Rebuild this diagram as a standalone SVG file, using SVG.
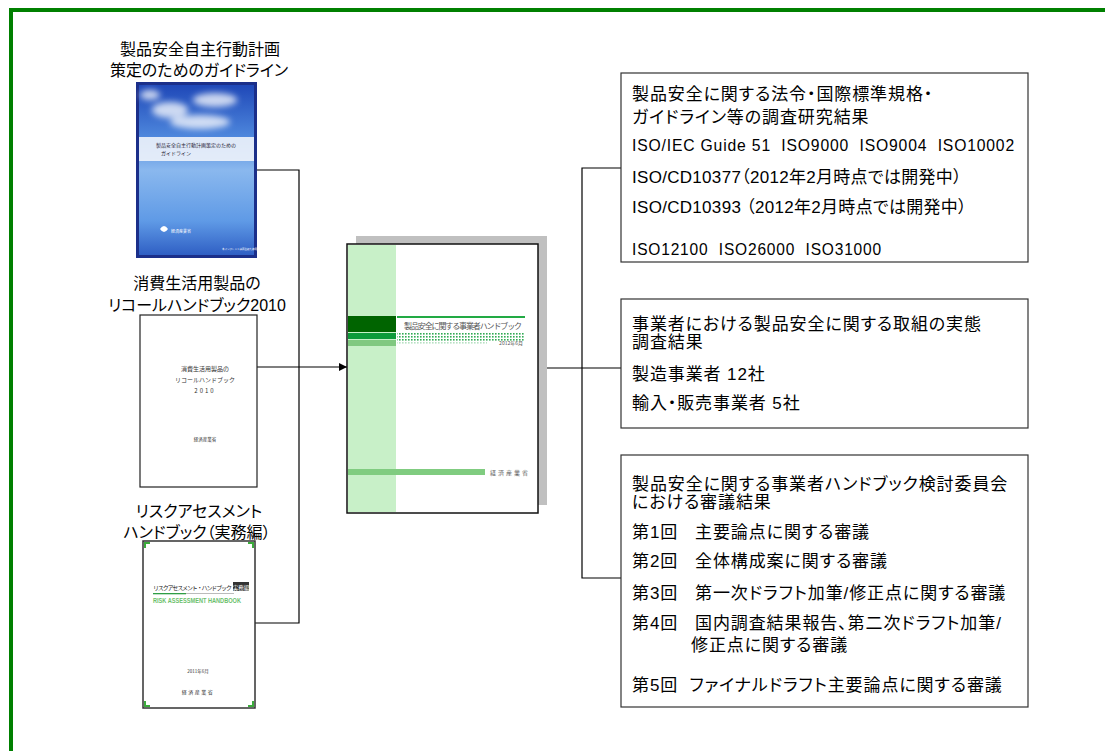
<svg xmlns="http://www.w3.org/2000/svg" width="1105" height="751" viewBox="0 0 1105 751">
  <style>
    .jp { font-family: "Liberation Sans", "Noto Sans CJK JP", sans-serif; fill: #000; font-feature-settings: "palt"; }
    .title { font-size: 16px; text-anchor: middle; }
    .box-text { font-size: 17px; letter-spacing: 0.9px; }
    .latin { letter-spacing: 0.3px; }
    .box { fill: #fff; stroke: #333; stroke-width: 1.2; }
    .wire { fill: none; stroke: #000; stroke-width: 1.2; }
    .tiny { font-family: "Noto Sans CJK JP", sans-serif; }
  </style>
  <defs>
    <marker id="arrow" viewBox="0 0 10 10" refX="10" refY="5" markerWidth="8" markerHeight="8" markerUnits="userSpaceOnUse" orient="auto">
      <path d="M0,0 L10,5 L0,10 z" fill="#000"/>
    </marker>
    <linearGradient id="skyGrad" x1="0" y1="0" x2="0" y2="1">
      <stop offset="0" stop-color="#1f48b8"/>
      <stop offset="0.3" stop-color="#4d86dc"/>
      <stop offset="0.5" stop-color="#8ab8ee"/>
      <stop offset="0.8" stop-color="#5f9ae6"/>
      <stop offset="1" stop-color="#2f5fc4"/>
    </linearGradient>
    <filter id="soft" x="-20%" y="-20%" width="140%" height="140%">
      <feGaussianBlur stdDeviation="3"/>
    </filter>
    <pattern id="dots" width="3" height="3" patternUnits="userSpaceOnUse">
      <rect width="1.6" height="1.6" fill="#33aa55"/>
    </pattern>
  </defs>

  <!-- page frame -->
  <rect x="9" y="8" width="1096" height="4" fill="#008000"/>
  <rect x="9" y="8" width="4" height="743" fill="#008000"/>

  <!-- connectors -->
  <g id="connectors">
    <polyline class="wire" points="257,170 299,170 299,623 255,623"/>
    <line class="wire" x1="257" y1="367" x2="347" y2="367" marker-end="url(#arrow)"/>
    <polyline class="wire" points="621,168 582,168 582,578 621,578"/>
    <line class="wire" x1="621" y1="368" x2="538" y2="368" marker-end="url(#arrow)"/>
  </g>

  <!-- guideline booklet -->
  <g id="book-guideline">
    <text class="jp title" x="200" y="55">製品安全自主行動計画</text>
    <text class="jp title" x="199" y="76">策定のためのガイドライン</text>
    <rect x="136" y="82" width="121" height="176" fill="#1b2f8a"/>
    <rect x="139" y="85" width="115" height="170" fill="url(#skyGrad)"/>
    <g filter="url(#soft)" fill="#fff" opacity="0.75">
      <ellipse cx="170" cy="110" rx="18" ry="8"/>
      <ellipse cx="215" cy="100" rx="22" ry="7"/>
      <ellipse cx="200" cy="122" rx="30" ry="7"/>
      <ellipse cx="150" cy="95" rx="10" ry="5"/>
    </g>
    <rect x="139" y="137" width="115" height="24" fill="#eef3fb" opacity="0.9"/>
    <text class="tiny" x="196" y="147" font-size="5" text-anchor="middle" fill="#223">製品安全自主行動計画策定のための</text>
    <text class="tiny" x="176" y="155" font-size="5" text-anchor="middle" fill="#223">ガイドライン</text>
    <path d="M160,229 q4,-6 8,0 q-4,6 -8,0z" fill="#fff"/>
    <text class="tiny" x="171" y="233" font-size="4" fill="#fff">経済産業省</text>
    <text class="tiny" x="222" y="250" font-size="2.5" fill="#fff">本パンフレットは再生紙を使用</text>
  </g>

  <!-- recall handbook -->
  <g id="book-recall">
    <text class="jp title" x="197" y="289">消費生活用製品の</text>
    <text class="jp title" x="197" y="311">リコールハンドブック2010</text>
    <rect x="140" y="315" width="117" height="172" fill="#fff" stroke="#222" stroke-width="1.2"/>
    <text class="tiny" x="205" y="371" font-size="6" text-anchor="middle" fill="#333">消費生活用製品の</text>
    <text class="tiny" x="205" y="382" font-size="6" text-anchor="middle" fill="#333">リコールハンドブック</text>
    <text class="tiny" x="205" y="393" font-size="6" text-anchor="middle" fill="#333" letter-spacing="2">2010</text>
    <text class="tiny" x="205" y="441" font-size="4.5" text-anchor="middle" fill="#333">経済産業省</text>
  </g>

  <!-- risk assessment handbook -->
  <g id="book-risk">
    <text class="jp title" x="199" y="517">リスクアセスメント</text>
    <text class="jp title" x="197" y="538">ハンドブック（実務編）</text>
    <rect x="143" y="541" width="112" height="167" fill="#fff" stroke="#333" stroke-width="1.5"/>
    <g fill="#3cab3c">
      <path d="M144,542 h6 v2 h-4 v4 h-2z"/>
      <path d="M254,542 h-6 v2 h4 v4 h2z"/>
      <path d="M144,707 h6 v-2 h-4 v-4 h-2z"/>
      <path d="M254,707 h-6 v-2 h4 v-4 h2z"/>
    </g>
    <text class="tiny" x="153" y="590" font-size="6" fill="#222" textLength="79">リスクアセスメント・ハンドブック</text>
    <rect x="233" y="582" width="16" height="9" fill="#333"/>
    <text class="tiny" x="241" y="589.5" font-size="5.5" fill="#fff" text-anchor="middle">実務編</text>
    <rect x="153" y="593" width="33" height="1.3" fill="#2f9e45"/>
    <rect x="186" y="593" width="48" height="1" fill="#bbb"/>
    <text x="153" y="603" font-family="Liberation Sans, sans-serif" font-size="7" font-weight="bold" fill="#6cbf6c" textLength="88" lengthAdjust="spacingAndGlyphs">RISK ASSESSMENT HANDBOOK</text>
    <text class="tiny" x="198" y="673" font-size="4.5" text-anchor="middle" fill="#333">2011年6月</text>
    <text class="tiny" x="198" y="694" font-size="5" text-anchor="middle" fill="#333" letter-spacing="1.5">経済産業省</text>
  </g>

  <!-- business handbook (center) -->
  <g id="book-handbook">
    <rect x="356" y="236" width="191" height="269" fill="#c0c0c0"/>
    <rect x="347" y="244" width="191" height="269" fill="#fff" stroke="#111" stroke-width="1.5"/>
    <rect x="348" y="245" width="48" height="267" fill="#c8f0c8"/>
    <rect x="348" y="316" width="48" height="16" fill="#006400"/>
    <rect x="348" y="333" width="48" height="6" fill="#0d9a3a"/>
    <rect x="348" y="340" width="48" height="6" fill="#80c880"/>
    <rect x="397" y="316" width="128" height="2" fill="#22aa44"/>
    <text class="tiny" x="404" y="329" font-size="8" fill="#555" textLength="118">製品安全に関する事業者ハンドブック</text>
    <rect x="397" y="333" width="128" height="8" fill="url(#dots)"/>
    <rect x="397" y="341" width="90" height="3" fill="url(#dots)" opacity="0.35"/>
    <text class="tiny" x="523" y="345" font-size="5" fill="#555" text-anchor="end">2012年6月</text>
    <rect x="348" y="469" width="137" height="6" fill="#80cc80"/>
    <text class="tiny" x="490" y="475" font-size="6" fill="#666" letter-spacing="2">経済産業省</text>
  </g>

  <!-- research on laws and standards -->
  <g id="box-standards">
    <rect class="box" x="621" y="73" width="407" height="189"/>
    <text class="jp box-text" x="632" y="100">製品安全に関する法令・国際標準規格・</text>
    <text class="jp box-text" x="632" y="123">ガイドライン等の調査研究結果</text>
    <text class="jp box-text" x="632" y="151" xml:space="preserve" textLength="383" lengthAdjust="spacingAndGlyphs">ISO/IEC Guide 51  ISO9000  ISO9004  ISO10002</text>
    <text class="jp box-text latin" x="632" y="183">ISO/CD10377（2012年2月時点では開発中）</text>
    <text class="jp box-text latin" x="632" y="213">ISO/CD10393 （2012年2月時点では開発中）</text>
    <text class="jp box-text" x="632" y="255" xml:space="preserve" textLength="250" lengthAdjust="spacingAndGlyphs">ISO12100  ISO26000  ISO31000</text>
  </g>

  <!-- survey of businesses -->
  <g id="box-survey">
    <rect class="box" x="621" y="299" width="407" height="129"/>
    <text class="jp box-text" x="632" y="330" letter-spacing="1.6">事業者における製品安全に関する取組の実態</text>
    <text class="jp box-text" x="632" y="348">調査結果</text>
    <text class="jp box-text" x="632" y="380" xml:space="preserve">製造事業者 12社</text>
    <text class="jp box-text" x="632" y="409" xml:space="preserve">輸入・販売事業者 5社</text>
  </g>

  <!-- committee deliberations -->
  <g id="box-committee">
    <rect class="box" x="621" y="455" width="407" height="252"/>
    <text class="jp box-text" x="632" y="490">製品安全に関する事業者ハンドブック検討委員会</text>
    <text class="jp box-text" x="632" y="508">における審議結果</text>
    <text class="jp box-text" x="632" y="538" xml:space="preserve">第1回   主要論点に関する審議</text>
    <text class="jp box-text" x="632" y="567" xml:space="preserve">第2回   全体構成案に関する審議</text>
    <text class="jp box-text" x="632" y="599" xml:space="preserve">第3回   第一次ドラフト加筆/修正点に関する審議</text>
    <text class="jp box-text" x="632" y="629" xml:space="preserve">第4回   国内調査結果報告、第二次ドラフト加筆/</text>
    <text class="jp box-text" x="691" y="651">修正点に関する審議</text>
    <text class="jp box-text" x="632" y="691" xml:space="preserve">第5回  ファイナルドラフト主要論点に関する審議</text>
  </g>
</svg>
